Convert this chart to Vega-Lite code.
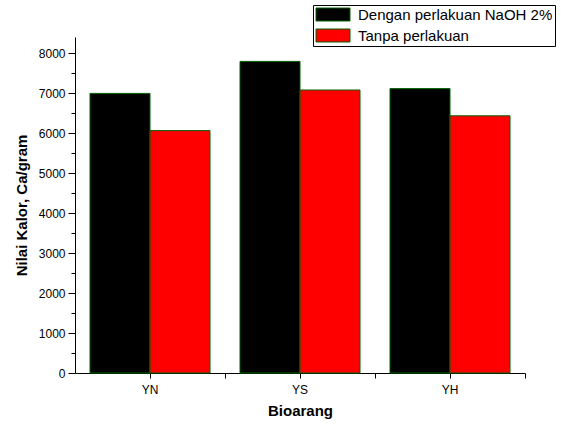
{
  "$schema": "https://vega.github.io/schema/vega-lite/v6.json",
  "width": 450,
  "height": 336,
  "autosize": {"type": "none"},
  "padding": {"left": 75, "top": 37, "right": 37, "bottom": 52},
  "config": {"view": {"stroke": null}, "font": "Liberation Sans"},
  "data": {
    "values": [
      {"Bioarang": "YN", "Perlakuan": "Dengan perlakuan NaOH 2%", "Kalor": 6990},
      {"Bioarang": "YN", "Perlakuan": "Tanpa perlakuan", "Kalor": 6060},
      {"Bioarang": "YS", "Perlakuan": "Dengan perlakuan NaOH 2%", "Kalor": 7790},
      {"Bioarang": "YS", "Perlakuan": "Tanpa perlakuan", "Kalor": 7075},
      {"Bioarang": "YH", "Perlakuan": "Dengan perlakuan NaOH 2%", "Kalor": 7110},
      {"Bioarang": "YH", "Perlakuan": "Tanpa perlakuan", "Kalor": 6430}
    ]
  },
  "layer": [
    {
      "mark": {"type": "bar", "stroke": "#006400", "strokeWidth": 1},
      "encoding": {
        "x": {
          "field": "Bioarang", "type": "nominal", "sort": ["YN", "YS", "YH"],
          "scale": {"paddingInner": 0.2, "paddingOuter": 0.1},
          "axis": {
            "title": "Bioarang", "orient": "bottom", "labelAngle": 0, "labelFontSize": 12, "labelColor": "black",
            "titleFontSize": 15, "titleFontWeight": "bold", "titleColor": "black",
            "domainColor": "black", "tickColor": "black", "tickSize": 5,
            "labelPadding": 6, "titlePadding": 8
          }
        },
        "xOffset": {"field": "Perlakuan", "sort": ["Dengan perlakuan NaOH 2%", "Tanpa perlakuan"]},
        "y": {
          "field": "Kalor", "type": "quantitative",
          "scale": {"domain": [0, 8400], "nice": false},
          "axis": {
            "title": "Nilai Kalor, Ca/gram",
            "values": [0, 500, 1000, 1500, 2000, 2500, 3000, 3500, 4000, 4500, 5000, 5500, 6000, 6500, 7000, 7500, 8000],
            "format": "d",
            "labelExpr": "datum.value % 1000 === 0 ? datum.label : ''",
            "tickSize": {"condition": {"test": "datum.value % 1000 === 0", "value": 7}, "value": 4},
            "grid": false, "labelFontSize": 12, "labelColor": "black",
            "titleFontSize": 15, "titleFontWeight": "bold", "titleColor": "black",
            "domainColor": "black", "tickColor": "black", "labelPadding": 3, "titlePadding": 9
          }
        },
        "color": {
          "field": "Perlakuan", "type": "nominal",
          "scale": {"domain": ["Dengan perlakuan NaOH 2%", "Tanpa perlakuan"], "range": ["#000000", "#ff0000"]},
          "legend": {
            "title": null, "orient": "none", "legendX": 238, "legendY": -32,
            "strokeColor": "black", "fillColor": "white", "padding": 2,
            "symbolType": "M-1,-1H4.2308V1H-1Z", "symbolSize": 169,
            "symbolStrokeColor": "#006400", "symbolStrokeWidth": 1, "symbolOpacity": 1,
            "labelFontSize": 15, "labelColor": "black", "labelOffset": 28, "rowPadding": 4, "labelLimit": 400
          }
        }
      }
    },
    {
      "mark": {"type": "bar", "opacity": 0},
      "encoding": {
        "x": {
          "field": "Bioarang", "type": "nominal", "sort": ["YN", "YS", "YH"],
          "axis": {
            "orient": "bottom", "title": null, "labels": false, "domain": false,
            "tickColor": "black", "tickSize": 5, "bandPosition": 1.125
          }
        }
      }
    }
  ],
  "resolve": {"axis": {"x": "independent"}}
}
